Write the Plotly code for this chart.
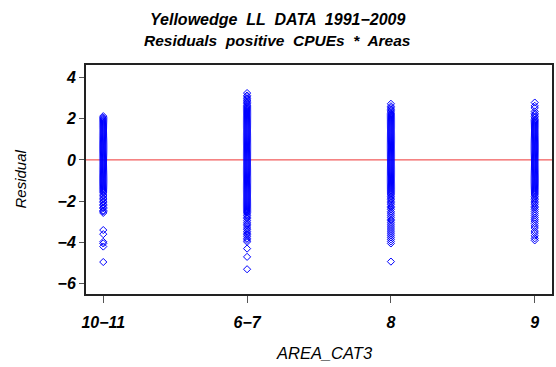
import plotly.graph_objects as go

categories = ["10\u221211", "6\u22127", "8", "9"]

res_10_11 = [2.12, 2.05, 2.0, 1.95, 1.9, 1.85, 1.8, 1.75, 1.7, 1.65, 1.6, 1.55, 1.5, 1.45, 1.4,
             1.35, 1.3, 1.25, 1.2, 1.15, 1.1, 1.05, 1.0, 0.95, 0.9, 0.85, 0.8, 0.75, 0.7, 0.65,
             0.6, 0.55, 0.5, 0.45, 0.4, 0.35, 0.3, 0.25, 0.2, 0.15, 0.1, 0.05, 0.0, -0.05,
             -0.1, -0.15, -0.2, -0.25, -0.3, -0.35, -0.4, -0.45, -0.5, -0.55, -0.6, -0.65,
             -0.7, -0.75, -0.8, -0.85, -0.9, -0.95, -1.0, -1.05, -1.1, -1.15, -1.2, -1.25,
             -1.3, -1.35, -1.4, -1.45, -1.5, -1.55, -1.6, -1.7, -1.75, -1.85, -1.9, -2.0,
             -2.05, -2.15, -2.2, -2.3, -2.35, -2.45, -2.5, -2.57, -3.4, -3.6, -3.97, -4.05,
             -4.2, -4.95]

res_6_7 = [3.24, 3.12, 3.05, 2.97, 2.9, 2.85, 2.78, 2.72, 2.65, 2.6, 2.55, 2.5, 2.45, 2.4, 2.35,
           2.3, 2.25, 2.2, 2.15, 2.1, 2.05, 2.0, 1.95, 1.9, 1.85, 1.8, 1.75, 1.7, 1.65, 1.6,
           1.55, 1.5, 1.45, 1.4, 1.35, 1.3, 1.25, 1.2, 1.15, 1.1, 1.05, 1.0, 0.95, 0.9, 0.85,
           0.8, 0.75, 0.7, 0.65, 0.6, 0.55, 0.5, 0.45, 0.4, 0.35, 0.3, 0.25, 0.2, 0.15, 0.1,
           0.05, 0.0, -0.05, -0.1, -0.15, -0.2, -0.25, -0.3, -0.35, -0.4, -0.45, -0.5, -0.55,
           -0.6, -0.65, -0.7, -0.75, -0.8, -0.85, -0.9, -0.95, -1.0, -1.05, -1.1, -1.15,
           -1.2, -1.25, -1.3, -1.35, -1.4, -1.45, -1.5, -1.55, -1.6, -1.65, -1.7, -1.75,
           -1.8, -1.85, -1.9, -1.95, -2.0, -2.05, -2.1, -2.15, -2.2, -2.25, -2.3, -2.35,
           -2.4, -2.45, -2.5, -2.55, -2.62, -2.7, -2.78, -2.85, -2.95, -3.05, -3.12, -3.2,
           -3.3, -3.38, -3.47, -3.55, -3.62, -3.7, -3.8, -3.88, -3.97, -4.3, -4.7, -5.3]

res_8 = [2.72, 2.6, 2.52, 2.45, 2.38, 2.32, 2.25, 2.2, 2.15, 2.1, 2.05, 2.0, 1.95, 1.9, 1.85,
         1.8, 1.75, 1.7, 1.65, 1.6, 1.55, 1.5, 1.45, 1.4, 1.35, 1.3, 1.25, 1.2, 1.15, 1.1,
         1.05, 1.0, 0.95, 0.9, 0.85, 0.8, 0.75, 0.7, 0.65, 0.6, 0.55, 0.5, 0.45, 0.4, 0.35,
         0.3, 0.25, 0.2, 0.15, 0.1, 0.05, 0.0, -0.05, -0.1, -0.15, -0.2, -0.25, -0.3, -0.35,
         -0.4, -0.45, -0.5, -0.55, -0.6, -0.65, -0.7, -0.75, -0.8, -0.85, -0.9, -0.95,
         -1.0, -1.05, -1.1, -1.15, -1.2, -1.25, -1.3, -1.35, -1.4, -1.45, -1.5, -1.55,
         -1.6, -1.65, -1.7, -1.78, -1.85, -1.92, -2.0, -2.08, -2.15, -2.25, -2.32, -2.4,
         -2.5, -2.58, -2.68, -2.78, -2.88, -2.95, -3.05, -3.15, -3.25, -3.35, -3.45, -3.55,
         -3.65, -3.75, -3.85, -3.95, -4.05, -4.93]

res_9 = [2.78, 2.62, 2.52, 2.35, 2.25, 2.18, 2.1, 2.03, 1.95, 1.9, 1.85, 1.8, 1.75, 1.7, 1.65,
         1.6, 1.55, 1.5, 1.45, 1.4, 1.35, 1.3, 1.25, 1.2, 1.15, 1.1, 1.05, 1.0, 0.95, 0.9,
         0.85, 0.8, 0.75, 0.7, 0.65, 0.6, 0.55, 0.5, 0.45, 0.4, 0.35, 0.3, 0.25, 0.2, 0.15,
         0.1, 0.05, 0.0, -0.05, -0.1, -0.15, -0.2, -0.25, -0.3, -0.35, -0.4, -0.45, -0.5,
         -0.55, -0.6, -0.65, -0.7, -0.75, -0.8, -0.85, -0.9, -0.95, -1.0, -1.05, -1.1,
         -1.15, -1.2, -1.25, -1.3, -1.35, -1.4, -1.45, -1.5, -1.55, -1.6, -1.65, -1.7,
         -1.78, -1.85, -1.92, -2.0, -2.08, -2.15, -2.25, -2.32, -2.4, -2.5, -2.6, -2.7,
         -2.8, -2.88, -2.97, -3.08, -3.2, -3.3, -3.45, -3.55, -3.68, -3.8, -3.9]

series = [res_10_11, res_6_7, res_8, res_9]

xs, ys = [], []
for cat, vals in zip(categories, series):
    xs += [cat] * len(vals)
    ys += vals

font_family = "Liberation Sans, Arial, sans-serif"

fig = go.Figure()
fig.add_trace(go.Scatter(
    x=xs, y=ys, mode="markers",
    marker=dict(symbol="diamond-open", size=5.5, color="#0000ff",
                line=dict(width=1, color="#0000ff")),
    showlegend=False, hoverinfo="skip",
))

fig.add_shape(type="line", xref="paper", x0=0, x1=1, yref="y", y0=0, y1=0,
              line=dict(color="#ee3333", width=1), layer="below")

title_font = dict(size=15.5, family=font_family, weight="bold", style="italic", color="black")
fig.add_annotation(text="Yellowedge  LL  DATA  1991\u22122009", xref="paper", yref="paper",
                   x=0.412, y=1.2, xanchor="center", yanchor="middle", showarrow=False,
                   font=dict(size=16, family=font_family, weight="bold", style="italic",
                             color="black"))
fig.add_annotation(text="Residuals  positive  CPUEs  *  Areas", xref="paper", yref="paper",
                   x=0.412, y=1.105, xanchor="center", yanchor="middle", showarrow=False,
                   font=title_font)
fig.add_annotation(text="AREA_CAT3", xref="paper", yref="paper",
                   x=0.511, y=-0.256, xanchor="center", yanchor="middle", showarrow=False,
                   font=dict(size=16.5, family=font_family, style="italic", color="black"))
fig.add_annotation(text="Residual", xref="paper", yref="paper", textangle=-90,
                   x=-0.1416, y=0.5, xanchor="center", yanchor="middle", showarrow=False,
                   font=dict(size=15, family=font_family, style="italic", color="black"))

fig.update_layout(
    width=556, height=367,
    margin=dict(l=86, r=4, t=65, b=73, autoexpand=False),
    paper_bgcolor="white", plot_bgcolor="white",
    font=dict(family=font_family, color="black"),
    xaxis=dict(
        type="category", categoryorder="array", categoryarray=categories,
        range=[-0.12, 3.12],
        showgrid=False, zeroline=False,
        showline=True, linewidth=2, linecolor="#222", mirror=True,
        ticks="outside", ticklen=7, tickwidth=1, tickcolor="#555",
        ticklabelstandoff=6,
        tickfont=dict(size=16, weight="bold", style="italic"),
    ),
    yaxis=dict(
        range=[-6.5, 4.6],
        tickvals=[4, 2, 0, -2, -4, -6],
        ticktext=["4", "2", "0", "\u22122", "\u22124", "\u22126"],
        showgrid=False, zeroline=False,
        showline=True, linewidth=2, linecolor="#222", mirror=True,
        ticks="outside", ticklen=5, tickwidth=1, tickcolor="#555",
        tickfont=dict(size=16, weight="bold", style="italic"),
    ),
)

fig.write_html("out.html", config={"displayModeBar": False},
               post_script="document.body.style.margin='0';")
